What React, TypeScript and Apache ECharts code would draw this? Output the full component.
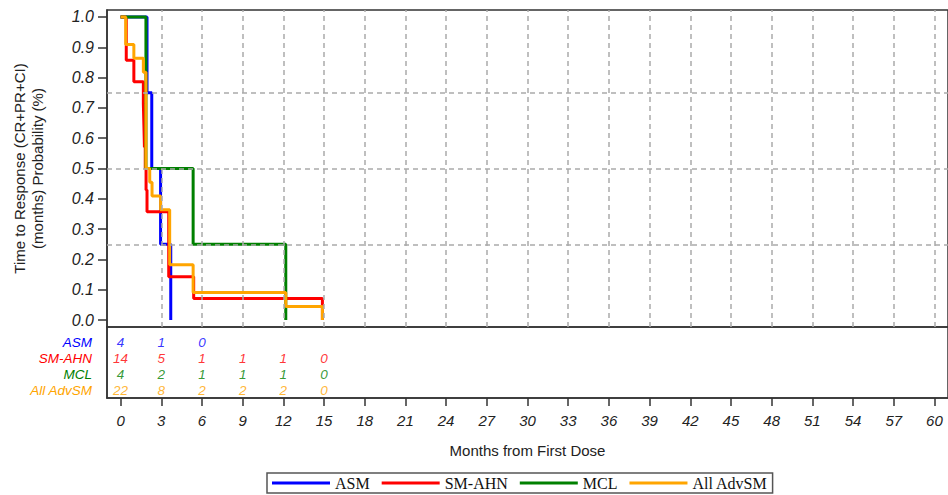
import React, { useEffect, useRef } from "react";
import * as echarts from "echarts";

const groups = ["ASM", "SM-AHN", "MCL", "All AdvSM"];
const groupColors = ["#0000ff", "#ff0000", "#008000", "#ffa500"];

// Kaplan-Meier step points (months, probability)
const asmTimes = [0, 1.95, 2.3, 2.95, 3.7];
const asmSurv = [1, 0.75, 0.5, 0.25, 0];
const smahnTimes = [0, 0.42, 0.98, 1.68, 1.72, 1.76, 1.82, 1.88, 1.95, 3.55, 5.39, 14.88];
const smahnSurv = [1, 0.857, 0.786, 0.714, 0.643, 0.571, 0.5, 0.429, 0.357, 0.143, 0.071, 0];
const mclTimes = [0, 1.87, 5.35, 12.18];
const mclSurv = [1, 0.5, 0.25, 0];
const allTimes = [0, 0.38, 0.98, 1.68, 1.87, 2.15, 2.32, 2.95, 3.62, 5.35, 12.18, 14.88];
const allSurv = [1, 0.909, 0.864, 0.818, 0.5, 0.455, 0.409, 0.364, 0.182, 0.091, 0.045, 0];

// Number at risk
const riskTimes = [0, 3, 6, 9, 12, 15];
const asmRisk = [4, 1, 0];
const smahnRisk = [14, 5, 1, 1, 1, 0];
const mclRisk = [4, 2, 1, 1, 1, 0];
const allRisk = [22, 8, 2, 2, 2, 0];

const xTicks = [0, 3, 6, 9, 12, 15, 18, 21, 24, 27, 30, 33, 36, 39, 42, 45, 48, 51, 54, 57, 60];
const yTicks = [0, 0.1, 0.2, 0.3, 0.4, 0.5, 0.6, 0.7, 0.8, 0.9, 1.0];
const refLinesY = [0.25, 0.5, 0.75];
const refLinesX = [3, 6, 9, 12, 15, 18, 21, 24, 27, 30, 33, 36, 39, 42, 45, 48, 51, 54, 57, 60];

const SANS = "Liberation Sans, Arial, sans-serif";

export default function App() {
  const ref = useRef<HTMLDivElement>(null);
  useEffect(() => {
    if (!ref.current) return;
    const chart = echarts.init(ref.current, null, { renderer: "svg" });
    const curves = [
      [asmTimes, asmSurv],
      [smahnTimes, smahnSurv],
      [mclTimes, mclSurv],
      [allTimes, allSurv],
    ];
    const risks = [asmRisk, smahnRisk, mclRisk, allRisk];
    const rich: any = {};
    groups.forEach((g, i) => {
      rich["g" + i] = { color: groupColors[i], fontStyle: "italic", fontSize: 13.5, fontFamily: SANS };
    });
    const option: any = {
      animation: false,
      grid: [
        { left: 107, top: 10, width: 843, height: 317, show: true, borderColor: "#333", borderWidth: 1.5 },
        { left: 107, top: 327, width: 843, height: 71, show: true, borderColor: "#333", borderWidth: 1.5 },
      ],
      xAxis: [
        {
          gridIndex: 0, type: "value", min: -1, max: 61, position: "bottom",
          axisLine: { show: false, onZero: false }, axisTick: { show: false }, axisLabel: { show: false }, splitLine: { show: false },
        },
        {
          gridIndex: 1, type: "value", min: -1, max: 61, position: "bottom",
          axisLine: { show: true, onZero: false, lineStyle: { color: "#333", width: 1.5 } },
          axisTick: { show: true, length: 8, customValues: xTicks, lineStyle: { color: "#333", width: 1.5 } },
          axisLabel: { customValues: xTicks, fontStyle: "italic", fontSize: 15, color: "#222", margin: 15, fontFamily: SANS },
          splitLine: { show: false },
          name: "Months from First Dose", nameLocation: "middle", nameGap: 45,
          nameTextStyle: { fontSize: 15, color: "#222", fontFamily: SANS },
        },
      ],
      yAxis: [
        {
          gridIndex: 0, type: "value", min: -0.023, max: 1.023, position: "left",
          axisLine: { show: true, onZero: false, lineStyle: { color: "#333", width: 1.5 } },
          axisTick: { show: true, inside: false, length: 9, customValues: yTicks, lineStyle: { color: "#333", width: 1.5 } },
          axisLabel: {
            customValues: yTicks, formatter: (v: number) => v.toFixed(1),
            fontStyle: "italic", fontSize: 16, color: "#222", margin: 13, fontFamily: SANS,
          },
          splitLine: { show: false },
          name: "Time to Response (CR+PR+CI)\n(months) Probability (%)",
          nameLocation: "middle", nameGap: 61,
          nameTextStyle: { fontSize: 15, lineHeight: 18, color: "#222", fontFamily: SANS },
        },
        {
          gridIndex: 1, type: "value", inverse: true, min: -1, max: 3.5, position: "left",
          axisLine: { show: true, onZero: false, lineStyle: { color: "#333", width: 1.5 } },
          axisTick: { show: false }, splitLine: { show: false },
          axisLabel: {
            customValues: [0, 1, 2, 3],
            formatter: (v: number) => `{g${v}|${groups[v]}}`,
            rich, margin: 15,
          },
        },
      ],
      legend: {
        data: groups, left: 267, top: 473, orient: "horizontal",
        icon: "rect", itemWidth: 58, itemHeight: 3, itemGap: 12, padding: [2, 5],
        borderColor: "#555", borderWidth: 1.5,
        textStyle: { fontFamily: "Liberation Serif, Times New Roman, serif", fontSize: 16, color: "#111" },
      },
      series: [
        {
          type: "line", name: "refs", xAxisIndex: 0, yAxisIndex: 0, data: [], z: 1,
          markLine: {
            silent: true, symbol: ["none", "none"], label: { show: false },
            lineStyle: { type: [5, 4], color: "#aaa", width: 1.5 },
            data: [...refLinesY.map((v) => ({ yAxis: v })), ...refLinesX.map((v) => ({ xAxis: v }))],
          },
        },
        ...curves.map(([ts, ss], i) => ({
          type: "line", name: groups[i], xAxisIndex: 0, yAxisIndex: 0, step: "end",
          showSymbol: false, symbol: "none", z: 3,
          lineStyle: { width: 3, color: groupColors[i] }, itemStyle: { color: groupColors[i] },
          data: ts.map((t, k) => [t, ss[k]]),
        })),
        ...risks.map((r, i) => ({
          type: "scatter", name: "risk-" + groups[i], xAxisIndex: 1, yAxisIndex: 1,
          symbolSize: 1, itemStyle: { color: "rgba(0,0,0,0)" }, z: 3,
          label: {
            show: true, position: "inside", formatter: (p: any) => String(p.value[2]),
            color: groupColors[i], fontStyle: "italic", fontSize: 13.5, fontFamily: SANS,
          },
          data: r.map((n, k) => [riskTimes[k], i, n]),
        })),
      ],
    };
    chart.setOption(option);
    return () => chart.dispose();
  }, []);
  return <div ref={ref} style={{ position: "absolute", left: 0, top: 0, width: 948, height: 495 }} />;
}
